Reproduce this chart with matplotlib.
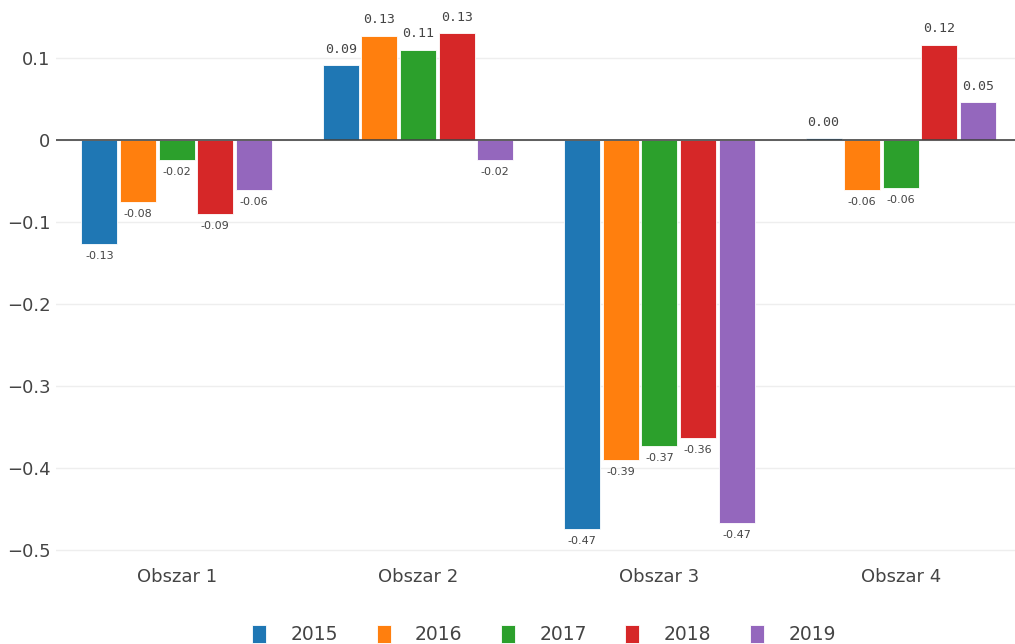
import matplotlib
matplotlib.use("Agg")
import matplotlib.pyplot as plt
import numpy as np

categories = ["Obszar 1", "Obszar 2", "Obszar 3", "Obszar 4"]
years = ["2015", "2016", "2017", "2018", "2019"]
v2015 = [-0.127, 0.091, -0.474, 0.002]
v2016 = [-0.076, 0.127, -0.390, -0.061]
v2017 = [-0.024, 0.110, -0.373, -0.059]
v2018 = [-0.090, 0.130, -0.363, 0.116]
v2019 = [-0.061, -0.024, -0.467, 0.046]
series = [v2015, v2016, v2017, v2018, v2019]
colors = ["#1f77b4", "#ff7f0e", "#2ca02c", "#d62728", "#9467bd"]

plt.rcParams['font.family'] = ['DejaVu Sans']
fig = plt.figure(figsize=(10.15, 6.44), dpi=100)
ax = fig.add_axes([56/1015, 89/644, 1 - 56/1015, 555/644])

x = np.arange(len(categories))
slot = 0.16
bw = 0.149
txtc = "#444444"
handles = []
for i, (vals, c, yr) in enumerate(zip(series, colors, years)):
    pos = x - 0.4 + slot * (i + 0.5)
    b = ax.bar(pos, vals, width=bw, color=c, edgecolor="white", linewidth=0.6, label=yr, zorder=3)
    handles.append(b)
    for px, v in zip(pos, vals):
        if v >= 0:
            ax.annotate(f"{v:.2f}", (px, v), xytext=(0, 7), textcoords="offset points",
                        ha="center", va="bottom", fontsize=9.5, color=txtc,
                        family="DejaVu Sans Mono")
        else:
            ax.annotate(f"-{abs(v):.2f}", (px, v), xytext=(0, -5), textcoords="offset points",
                        ha="center", va="top", fontsize=8, color=txtc)

ax.set_xlim(-0.5, 3.473)
ax.set_ylim(-0.506, 0.1707)
ax.set_yticks([0.1, 0, -0.1, -0.2, -0.3, -0.4, -0.5])
ax.set_yticklabels(["0.1", "0", "\u22120.1", "\u22120.2", "\u22120.3", "\u22120.4", "\u22120.5"])
ax.set_xticks(x)
ax.set_xticklabels(categories)
ax.tick_params(axis="both", length=0, labelsize=13, colors=txtc)
ax.tick_params(axis="x", pad=9)
ax.tick_params(axis="y", pad=4)
ax.grid(axis="y", color="#eeeeee", linewidth=1, zorder=0)
ax.axhline(0, color="#444444", linewidth=1.2, zorder=4)
for s in ax.spines.values():
    s.set_visible(False)

leg = fig.legend(handles, years, loc="lower center", bbox_to_anchor=(544/1015, -0.018), ncol=5, frameon=False,
                 fontsize=13.5, handlelength=0.75, handleheight=1.1, columnspacing=2.05, handletextpad=1.3,
                 labelcolor=txtc, borderaxespad=0.2)

fig.savefig("out.png", dpi=100)
